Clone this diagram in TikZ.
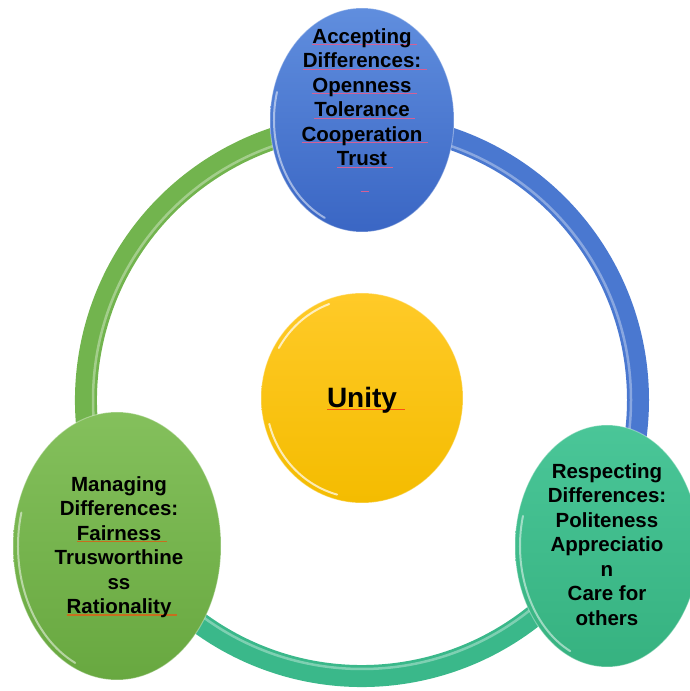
\documentclass[tikz,border=0pt]{standalone}
\usepackage{fontspec}
\setmainfont{Liberation Sans}
\usetikzlibrary{shapes.geometric}

% palette
\definecolor{ringblue}{RGB}{74,120,208}
\definecolor{ringteal}{RGB}{58,184,138}
\definecolor{ringgreen}{RGB}{114,180,78}
\definecolor{blueTop}{RGB}{96,142,222}
\definecolor{blueBot}{RGB}{58,102,196}
\definecolor{greenTop}{RGB}{132,192,92}
\definecolor{greenBot}{RGB}{104,168,64}
\definecolor{tealTop}{RGB}{74,198,152}
\definecolor{tealBot}{RGB}{54,178,128}
\definecolor{goldTop}{RGB}{255,202,40}
\definecolor{goldBot}{RGB}{244,188,0}
\definecolor{ulpink}{RGB}{212,96,150}
\definecolor{ulbrown}{RGB}{200,110,30}
\definecolor{ulorange}{RGB}{250,80,20}

% proofing-style underline: centred on the word, running on past a trailing space
\newcommand\squigline[3]{\setbox0\hbox{#3}\setbox2\hbox{#3\ }\leavevmode
  \rlap{\color{#1}\vrule width \wd2 height \dimexpr-2pt+#2\relax depth 2pt}\box0}
\newcommand\squig[1]{\squigline{ulpink}{0.9pt}{#1}}
\newcommand\squigG[1]{\squigline{ulbrown}{1.1pt}{#1}}
\newcommand\squigY[1]{\squigline{ulorange}{1.1pt}{#1}}

\tikzset{
  ringseg/.style={line width=22pt},
  ringshine/.style={white, opacity=.35, line width=2.5pt},
  bubble/.style={ellipse, inner sep=0pt, draw=white, draw opacity=.35, line width=1pt},
  rim/.style={white, opacity=.5, line width=2pt, line cap=round},
  label/.style={align=center, inner sep=0pt, font=\bfseries\fontsize{20.5}{24.5}\selectfont},
}

\begin{document}
\begin{tikzpicture}[x=1pt, y=1pt]
\useasboundingbox (0,0) rectangle (689,691);

\coordinate (c) at (362,291);

% the ring, one coloured arc between each pair of bubbles
\draw[ringseg, ringblue]  (c) ++(90:276)  arc[start angle=90,  end angle=-30,  radius=276];
\draw[ringseg, ringteal]  (c) ++(-30:276) arc[start angle=-30, end angle=-150, radius=276];
\draw[ringseg, ringgreen] (c) ++(210:276) arc[start angle=210, end angle=90,   radius=276];
\draw[ringshine] (c) circle[radius=269];

% outer bubbles
\node[bubble, minimum width=184pt, minimum height=224pt, top color=blueTop, bottom color=blueBot]
  (accept) at (362,571) {};
\node[bubble, minimum width=208pt, minimum height=268pt, top color=greenTop, bottom color=greenBot]
  (manage) at (117,145) {};
\node[bubble, minimum width=184pt, minimum height=242pt, top color=tealTop, bottom color=tealBot]
  (respect) at (607,145) {};

% glossy rims on the lower left of each bubble
\draw[rim] (accept)  ++(165:88 and 108)  arc[start angle=165, end angle=245, x radius=88,  y radius=108];
\draw[rim] (manage)  ++(165:99 and 129)  arc[start angle=165, end angle=245, x radius=99,  y radius=129];
\draw[rim] (respect) ++(165:87 and 116)  arc[start angle=165, end angle=245, x radius=87,  y radius=116];

% centre bubble
\node[bubble, minimum width=202pt, minimum height=210pt, top color=goldTop, bottom color=goldBot]
  (unity) at (362,293) {};
\draw[rim, opacity=.7] (unity) ++(110:96 and 100) arc[start angle=110, end angle=150, x radius=96, y radius=100];
\draw[rim, opacity=.7] (unity) ++(195:96 and 100) arc[start angle=195, end angle=255, x radius=96, y radius=100];

% texts
\node[label, anchor=north] (acceptText) at (362,663)
  {\squig{Accepting}\\\squig{Differences:}\\\squig{Openness}\\\squig{Tolerance}\\
   \squig{Cooperation}\\\squig{Trust}\\\squig{\hspace{2.5pt}}};
\node[label, anchor=north] (manageText) at (119,215)
  {Managing\\Differences:\\\squigG{Fairness}\\Trusworthine\\ss\\\squigG{Rationality}};
\node[label, anchor=north] (respectText) at (607,228)
  {Respecting\\Differences:\\Politeness\\Appreciatio\\n\\Care for\\others};
\node[inner sep=0pt, anchor=base, font=\bfseries\fontsize{28}{32}\selectfont] (unityText) at (362,283)
  {\squigY{Unity}};
\end{tikzpicture}
\end{document}
